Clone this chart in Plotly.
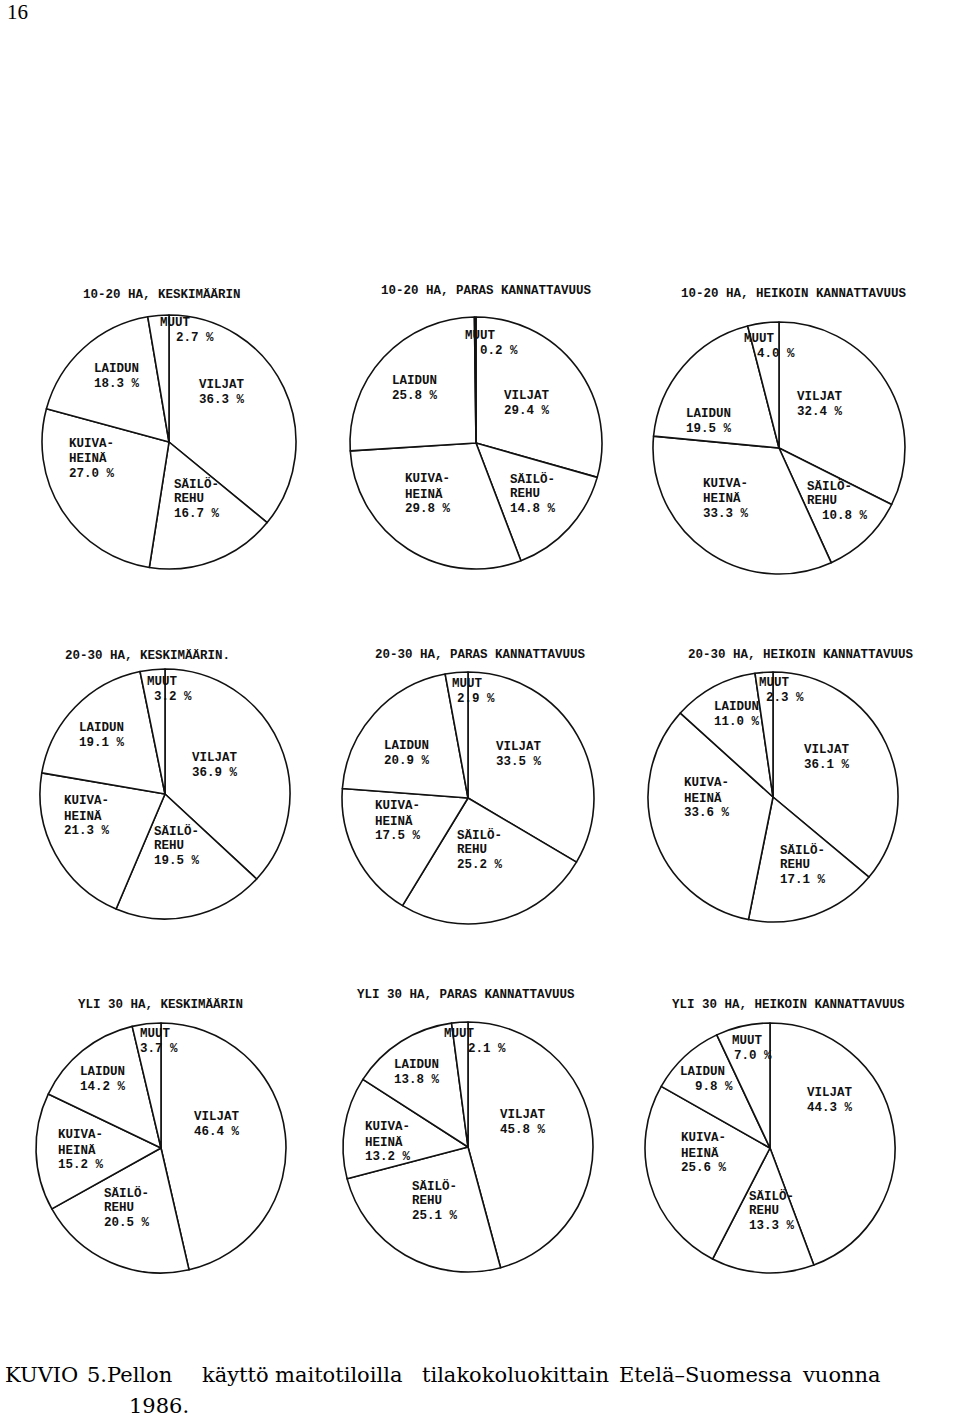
import plotly.graph_objects as go

W, H = 960, 1422

# ---------------- data ----------------
categories = ["MUUT", "VILJAT", "SÄILÖREHU", "KUIVAHEINÄ", "LAIDUN"]
category_lines = {
    "MUUT": ["MUUT"],
    "VILJAT": ["VILJAT"],
    "SÄILÖREHU": ["SÄILÖ-", "REHU"],
    "KUIVAHEINÄ": ["KUIVA-", "HEINÄ"],
    "LAIDUN": ["LAIDUN"],
}

chart_titles = [
    "10-20 HA, KESKIMÄÄRIN",
    "10-20 HA, PARAS KANNATTAVUUS",
    "10-20 HA, HEIKOIN KANNATTAVUUS",
    "20-30 HA, KESKIMÄÄRIN.",
    "20-30 HA, PARAS KANNATTAVUUS",
    "20-30 HA, HEIKOIN KANNATTAVUUS",
    "YLI 30 HA, KESKIMÄÄRIN",
    "YLI 30 HA, PARAS KANNATTAVUUS",
    "YLI 30 HA, HEIKOIN KANNATTAVUUS",
]

# values in order: MUUT, VILJAT, SÄILÖREHU, KUIVAHEINÄ, LAIDUN (%)
ha10_20_keskim = [2.7, 36.3, 16.7, 27.0, 18.3]
ha10_20_paras = [0.2, 29.4, 14.8, 29.8, 25.8]
ha10_20_heikoin = [4.0, 32.4, 10.8, 33.3, 19.5]
ha20_30_keskim = [3.2, 36.9, 19.5, 21.3, 19.1]
ha20_30_paras = [2.9, 33.5, 25.2, 17.5, 20.9]
ha20_30_heikoin = [2.3, 36.1, 17.1, 33.6, 11.0]
yli30_keskim = [3.7, 46.4, 20.5, 15.2, 14.2]
yli30_paras = [2.1, 45.8, 25.1, 13.2, 13.8]
yli30_heikoin = [7.0, 44.3, 13.3, 25.6, 9.8]

series = [ha10_20_keskim, ha10_20_paras, ha10_20_heikoin,
          ha20_30_keskim, ha20_30_paras, ha20_30_heikoin,
          yli30_keskim, yli30_paras, yli30_heikoin]

# drawing order clockwise from 12 o'clock (MUUT ends at 12 o'clock)
draw_order = ["VILJAT", "SÄILÖREHU", "KUIVAHEINÄ", "LAIDUN", "MUUT"]

caption_words = ["KUVIO", "5.Pellon", "käyttö", "maitotiloilla",
                 "tilakokoluokittain", "Etelä–Suomessa", "vuonna"]
caption_line2 = "1986."
page_number = "16"

# ---------------- layout (pixel positions) ----------------
# pie centre x, centre y, radius
pie_geom = [(169, 442, 127), (476, 443, 126), (779, 448, 126),
            (165, 794, 125), (468, 798, 126), (773, 797, 125),
            (161, 1148, 125), (468, 1147, 125), (770, 1148, 125)]
title_pos = [(162, 294), (486, 291), (794, 294),
             (147, 655), (480, 655), (801, 655),
             (160, 1004), (466, 995), (788, 1005)]
# label placement: category -> (left x, first line centre y, indent of last line)
label_pos = [
    {"MUUT": (158, 323, 16), "VILJAT": (197, 385, 0), "SÄILÖREHU": (172, 484, 0),
     "KUIVAHEINÄ": (67, 444, 0), "LAIDUN": (92, 369, 0)},
    {"MUUT": (463, 336, 15), "VILJAT": (502, 396, 0), "SÄILÖREHU": (508, 479, 0),
     "KUIVAHEINÄ": (403, 479, 0), "LAIDUN": (390, 381, 0)},
    {"MUUT": (742, 339, 13), "VILJAT": (795, 397, 0), "SÄILÖREHU": (805, 486, 15),
     "KUIVAHEINÄ": (701, 484, 0), "LAIDUN": (684, 414, 0)},
    {"MUUT": (145, 682, 7), "VILJAT": (190, 758, 0), "SÄILÖREHU": (152, 831, 0),
     "KUIVAHEINÄ": (62, 801, 0), "LAIDUN": (77, 728, 0)},
    {"MUUT": (450, 684, 5), "VILJAT": (494, 747, 0), "SÄILÖREHU": (455, 835, 0),
     "KUIVAHEINÄ": (373, 806, 0), "LAIDUN": (382, 746, 0)},
    {"MUUT": (757, 683, 7), "VILJAT": (802, 750, 0), "SÄILÖREHU": (778, 850, 0),
     "KUIVAHEINÄ": (682, 783, 0), "LAIDUN": (712, 707, 0)},
    {"MUUT": (138, 1034, 0), "VILJAT": (192, 1117, 0), "SÄILÖREHU": (102, 1193, 0),
     "KUIVAHEINÄ": (56, 1135, 0), "LAIDUN": (78, 1072, 0)},
    {"MUUT": (442, 1034, 24), "VILJAT": (498, 1115, 0), "SÄILÖREHU": (410, 1186, 0),
     "KUIVAHEINÄ": (363, 1127, 0), "LAIDUN": (392, 1065, 0)},
    {"MUUT": (730, 1041, 2), "VILJAT": (805, 1093, 0), "SÄILÖREHU": (747, 1196, 0),
     "KUIVAHEINÄ": (679, 1138, 0), "LAIDUN": (678, 1072, 15)},
]
LINE_STEP = 15.0
caption_x = [3, 85, 200, 273, 420, 617, 800]
caption_y = 1375
caption2_pos = (127, 1406)

INK = "#111111"
MONO = "Liberation Mono, Courier New, monospace"
SERIF = "DejaVu Serif, Liberation Serif, serif"


def px(x, y):
    return x / W, 1 - y / H


fig = go.Figure()
annotations = []

for i, vals in enumerate(series):
    cx, cy, r = pie_geom[i]
    vmap = dict(zip(categories, vals))
    fig.add_trace(go.Pie(
        labels=draw_order,
        values=[vmap[c] for c in draw_order],
        sort=False,
        direction="clockwise",
        rotation=0,
        textinfo="none",
        hoverinfo="label+value",
        marker=dict(colors=["white"] * 5, line=dict(color=INK, width=1.6)),
        domain=dict(x=[(cx - r) / W, (cx + r) / W],
                    y=[1 - (cy + r) / H, 1 - (cy - r) / H]),
        showlegend=False,
    ))
    tx, ty = title_pos[i]
    ax, ay = px(tx, ty)
    annotations.append(dict(text=chart_titles[i], x=ax, y=ay, xref="paper", yref="paper",
                            xanchor="center", yanchor="middle", showarrow=False,
                            font=dict(family=MONO, size=12.5, color=INK, weight="bold")))
    for cat in categories:
        lx, ly, indent = label_pos[i][cat]
        lines = category_lines[cat] + [f"{vmap[cat]:.1f} %"]
        for k, line in enumerate(lines):
            xx = lx + (indent if k == len(lines) - 1 else 0)
            yy = ly + k * LINE_STEP
            ax, ay = px(xx, yy)
            annotations.append(dict(text=line, x=ax, y=ay, xref="paper", yref="paper",
                                    xanchor="left", yanchor="middle", showarrow=False,
                                    font=dict(family=MONO, size=12.5, color=INK, weight="bold")))

for word, wx in zip(caption_words, caption_x):
    ax, ay = px(wx, caption_y)
    annotations.append(dict(text=word, x=ax, y=ay, xref="paper", yref="paper",
                            xanchor="left", yanchor="middle", showarrow=False,
                            font=dict(family=SERIF, size=21, color="#000")))
ax, ay = px(*caption2_pos)
annotations.append(dict(text=caption_line2, x=ax, y=ay, xref="paper", yref="paper",
                        xanchor="left", yanchor="middle", showarrow=False,
                        font=dict(family=SERIF, size=21, color="#000")))
ax, ay = px(5, 12)
annotations.append(dict(text=page_number, x=ax, y=ay, xref="paper", yref="paper",
                        xanchor="left", yanchor="middle", showarrow=False,
                        font=dict(family="Liberation Serif, serif", size=21, color="#000")))

fig.update_layout(
    width=W, height=H,
    margin=dict(l=0, r=0, t=0, b=0),
    paper_bgcolor="white", plot_bgcolor="white",
    annotations=annotations,
)

fig.write_html("out.html")
